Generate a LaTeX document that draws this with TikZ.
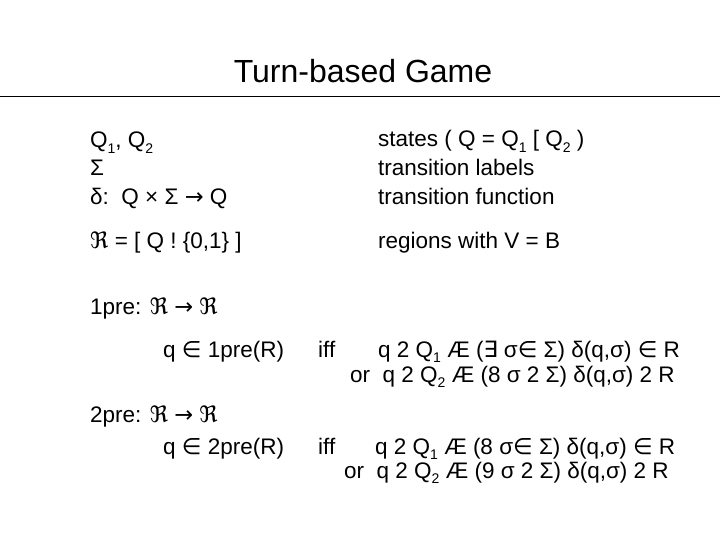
\documentclass[tikz,border=0pt]{standalone}
\usepackage{fontspec}
\setmainfont{Liberation Sans}
\newfontfamily\dv{DejaVu Sans}
\newcommand{\RR}{{\dv ℜ}}
\newcommand{\IN}{{\dv ∈}}
\newcommand{\TO}{{\dv →}}
\newcommand{\sub}[1]{\raisebox{-0.25em}{\fontsize{14}{14}\selectfont #1}}
\begin{document}
\begin{tikzpicture}[x=1pt,y=-1pt,
  t/.style={anchor=base west,inner sep=0pt,font=\fontsize{22.5}{26}\selectfont}]
\useasboundingbox (0,0) rectangle (720,540);
\node[anchor=base,inner sep=0pt,font=\fontsize{32}{36}\selectfont] (title) at (363,83) {Turn-based Game};
\draw[line width=0.8pt] (0,96) -- (720,96);
\node[t] (a1) at (90,148) {Q\sub{1}, Q\sub{2}};
\node[t] (a2) at (90,176) {Σ};
\node[t] (a3) at (90,205) {δ:\ \ Q × Σ \TO\ Q};
\node[t] (a4) at (90,248) {\RR\ = [ Q ! \{0,1\} ]};
\node[t] (b1) at (378,147) {states ( Q = Q\sub{1} [ Q\sub{2} )};
\node[t] (b2) at (378,176) {transition labels};
\node[t] (b3) at (378,205) {transition function};
\node[t] (b4) at (378,248) {regions with V = B};
\node[t] (p1) at (90,314) {1pre: \RR\ \TO\ \RR};
\node[t] (q1) at (163,357) {q \IN\ 1pre(R)};
\node[t] (i1) at (318,357) {iff};
\node[t] (l1) at (378,357) {q 2 Q\sub{1} Æ ({\dv ∃} σ\IN\ Σ) δ(q,σ) \IN\ R};
\node[t] (l2) at (350,382) {or\ \ q 2 Q\sub{2} Æ (8 σ 2 Σ) δ(q,σ) 2 R};
\node[t] (p2) at (90,422) {2pre: \RR\ \TO\ \RR};
\node[t] (q2) at (163,454) {q \IN\ 2pre(R)};
\node[t] (i2) at (318,454) {iff};
\node[t] (l3) at (375,454) {q 2 Q\sub{1} Æ (8 σ\IN\ Σ) δ(q,σ) \IN\ R};
\node[t] (l4) at (344,478) {or\ \ q 2 Q\sub{2} Æ (9 σ 2 Σ) δ(q,σ) 2 R};
\end{tikzpicture}
\end{document}
